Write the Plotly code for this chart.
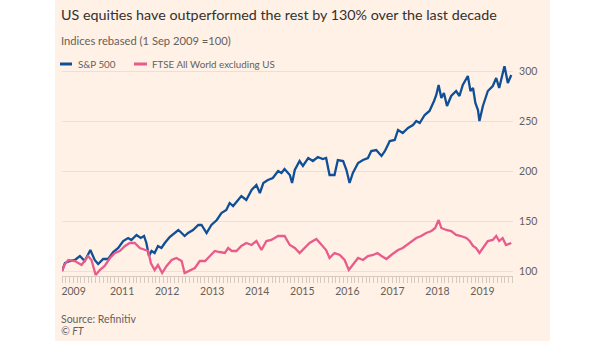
import plotly.graph_objects as go

# ---- data ----
sp_dates = ["2009-09-01","2009-09-25","2009-11-04","2009-12-15","2010-01-24","2010-03-04","2010-04-19",
            "2010-05-24","2010-06-21","2010-08-01","2010-09-10","2010-10-21","2010-12-01","2011-01-10",
            "2011-02-19","2011-03-17","2011-04-28","2011-06-01","2011-06-28","2011-07-17","2011-08-07",
            "2011-08-28","2011-09-22","2011-10-19","2011-11-16","2011-12-13","2012-01-22","2012-03-04",
            "2012-04-01","2012-04-28","2012-05-22","2012-06-19","2012-07-29","2012-09-10","2012-10-06",
            "2012-11-16","2012-12-25","2013-02-07","2013-03-16","2013-04-25","2013-05-22","2013-06-19",
            "2013-07-25","2013-08-25","2013-10-04","2013-11-16","2013-12-25","2014-01-22","2014-02-19",
            "2014-03-28","2014-05-07","2014-06-19","2014-07-16","2014-08-10","2014-09-22","2014-10-10",
            "2014-11-01","2014-12-10","2015-01-06","2015-02-18","2015-03-28","2015-05-07","2015-06-16",
            "2015-07-13","2015-08-10","2015-09-19","2015-10-16","2015-11-28","2015-12-25","2016-01-19",
            "2016-02-15","2016-03-28","2016-05-07","2016-06-16","2016-07-13","2016-08-22","2016-10-04",
            "2016-11-01","2016-12-10","2017-01-19","2017-02-15","2017-03-25","2017-05-07","2017-06-16",
            "2017-07-13","2017-08-10","2017-09-19","2017-10-28","2017-12-04","2017-12-22","2018-01-10",
            "2018-02-01","2018-02-22","2018-03-19","2018-04-22","2018-06-01","2018-06-28","2018-07-25",
            "2018-09-04","2018-09-25","2018-10-16","2018-11-04","2018-11-25","2018-12-07","2019-01-04",
            "2019-02-13","2019-03-25","2019-04-22","2019-05-16","2019-06-28","2019-07-25","2019-08-22"]
sp_values = [100,108,110,111,115,110,121,
             111,107,112,112,119,123,130,
             133,131,136,133,135,128,115,
             120,118,125,123,128,134,138,
             141,138,135,138,141,146,146,
             138,146,151,158,161,168,165,
             171,175,171,181,186,178,188,
             191,193,200,198,202,196,188,
             201,210,205,213,210,214,212,
             213,196,196,211,210,201,188,
             198,208,211,213,220,221,215,
             220,230,231,241,238,243,246,
             250,248,256,260,270,276,286,
             273,278,265,275,280,275,286,
             295,280,283,268,261,250,265,
             280,285,293,283,305,288,296]

ftse_dates = ["2009-09-01","2009-09-25","2009-10-22","2009-12-15","2010-02-07","2010-03-31","2010-04-28",
              "2010-06-01","2010-07-04","2010-08-13","2010-09-25","2010-11-04","2010-12-13","2011-01-25",
              "2011-03-04","2011-04-13","2011-05-25","2011-07-04","2011-08-01","2011-08-22","2011-09-22",
              "2011-10-19","2011-11-22","2011-12-28","2012-02-07","2012-03-16","2012-04-28","2012-05-22",
              "2012-07-04","2012-08-13","2012-09-22","2012-11-04","2012-12-13","2013-01-22","2013-03-01",
              "2013-04-13","2013-05-10","2013-06-08","2013-07-16","2013-08-25","2013-10-04","2013-11-16",
              "2013-12-25","2014-02-04","2014-03-16","2014-04-25","2014-06-19","2014-07-28","2014-08-10",
              "2014-09-22","2014-11-01","2014-12-10","2015-01-22","2015-03-01","2015-04-25","2015-06-04",
              "2015-07-13","2015-08-10","2015-09-19","2015-11-01","2015-12-10","2016-01-13","2016-02-15",
              "2016-03-28","2016-05-07","2016-06-16","2016-07-28","2016-09-01","2016-10-04","2016-11-13",
              "2016-12-22","2017-02-15","2017-03-25","2017-05-19","2017-07-13","2017-08-22","2017-10-01",
              "2017-11-13","2017-12-13","2018-01-10","2018-02-01","2018-03-13","2018-04-22","2018-06-01",
              "2018-07-10","2018-08-22","2018-09-19","2018-10-16","2018-11-10","2018-12-07","2019-01-04",
              "2019-02-13","2019-03-25","2019-04-22","2019-05-16","2019-06-13","2019-07-10","2019-08-22"]
ftse_values = [100,107,111,110,106,115,111,
               96,101,105,113,118,120,125,
               128,128,123,121,120,108,101,
               106,98,105,111,113,110,98,
               101,103,110,110,115,120,119,
               118,123,120,120,125,128,126,
               130,121,130,131,135,135,135,
               126,123,118,123,128,132,126,
               121,113,118,116,111,101,106,
               113,111,115,116,118,115,112,
               116,121,123,128,133,135,138,
               140,143,151,143,141,140,136,
               135,133,130,125,123,118,123,
               130,131,135,130,133,126,128]

year_tick_vals = ["2009-12-04","2011-01-01","2012-01-01","2013-01-01","2014-01-01","2015-01-01",
                  "2016-01-01","2017-01-01","2018-01-01","2019-01-01"]
year_tick_text = ["2009","2011","2012","2013","2014","2015","2016","2017","2018","2019"]
y_tick_vals = [100, 150, 200, 250, 300]

title_text = "US equities have outperformed the rest by 130% over the last decade"
subtitle_text = "Indices rebased (1 Sep 2009 =100)"
series_names = ["S&P 500", "FTSE All World excluding US"]
source_text = "Source: Refinitiv"
credit_text = "© FT"

# ---- style ----
BLUE = "#0f4f97"
PINK = "#e95b8a"
PANEL = "#fff1e5"
GREY = "#66605c"
DARK = "#33302e"
GRID = "#ece0d4"
TICK = "#d6cabe"
FONT = "Lato"

W, H = 605, 341
L, R, T, B = 62, 513, 66, 276  # plot area in pixels
pw, ph = R - L, B - T

def px(x):
    return (x - L) / pw

def py(y):
    return (B - y) / ph

fig = go.Figure()
fig.add_trace(go.Scatter(x=sp_dates, y=sp_values, mode="lines", name=series_names[0],
                         line=dict(color=BLUE, width=2.3), showlegend=False))
fig.add_trace(go.Scatter(x=ftse_dates, y=ftse_values, mode="lines", name=series_names[1],
                         line=dict(color=PINK, width=2.3), showlegend=False))

shapes = [
    dict(type="rect", xref="paper", yref="paper", x0=px(55), x1=px(550), y0=py(341), y1=py(0),
         fillcolor=PANEL, line=dict(width=0), layer="below"),
    dict(type="line", xref="paper", yref="paper", x0=px(60), x1=px(72), y0=py(64), y1=py(64),
         line=dict(color=BLUE, width=3)),
    dict(type="line", xref="paper", yref="paper", x0=px(134), x1=px(147), y0=py(64), y1=py(64),
         line=dict(color=PINK, width=3)),
]

annotations = [
    dict(text=title_text, x=px(59), y=py(14), xref="paper", yref="paper", xanchor="left",
         yanchor="middle", showarrow=False, font=dict(family=FONT, size=14.3, color=DARK)),
    dict(text=subtitle_text, x=px(59), y=py(40), xref="paper", yref="paper", xanchor="left",
         yanchor="middle", showarrow=False, font=dict(family=FONT, size=11.2, color=GREY)),
    dict(text=series_names[0], x=px(76), y=py(64), xref="paper", yref="paper", xanchor="left",
         yanchor="middle", showarrow=False, font=dict(family=FONT, size=9.8, color=GREY)),
    dict(text=series_names[1], x=px(150), y=py(64), xref="paper", yref="paper", xanchor="left",
         yanchor="middle", showarrow=False, font=dict(family=FONT, size=9.8, color=GREY)),
    dict(text=source_text, x=px(59), y=py(319), xref="paper", yref="paper", xanchor="left",
         yanchor="middle", showarrow=False, font=dict(family=FONT, size=10.5, color=GREY)),
    dict(text="<i>" + credit_text + "</i>", x=px(59), y=py(331), xref="paper", yref="paper",
         xanchor="left", yanchor="middle", showarrow=False,
         font=dict(family=FONT, size=10.5, color=GREY)),
]

fig.update_layout(
    width=W, height=H,
    margin=dict(l=L, r=W - R, t=T, b=H - B, pad=0),
    paper_bgcolor="white",
    plot_bgcolor="rgba(0,0,0,0)",
    shapes=shapes,
    annotations=annotations,
    showlegend=False,
    font=dict(family=FONT, size=10.5, color=GREY),
)
fig.update_xaxes(
    type="date", range=["2009-09-01", "2019-09-05"],
    tickmode="array", tickvals=year_tick_vals, ticktext=year_tick_text,
    ticks="outside", ticklen=5, tickcolor="rgba(0,0,0,0)",
    showgrid=False, zeroline=False, showline=True, linecolor=TICK, linewidth=1,
    tickfont=dict(family=FONT, size=10.5, color=GREY),
    minor=dict(ticks="outside", ticklen=6, tickcolor=TICK, tickmode="linear",
               tick0="2009-09-01", dtick="M1", showgrid=False),
)
fig.update_yaxes(
    range=[95, 305], side="right", tickmode="array", tickvals=y_tick_vals,
    showgrid=True, gridcolor=GRID, gridwidth=1, zeroline=False, showline=False,
    ticks="outside", ticklen=3, tickcolor="rgba(0,0,0,0)",
    tickfont=dict(family=FONT, size=10.5, color=GREY),
)

fig.write_html("out.html")
